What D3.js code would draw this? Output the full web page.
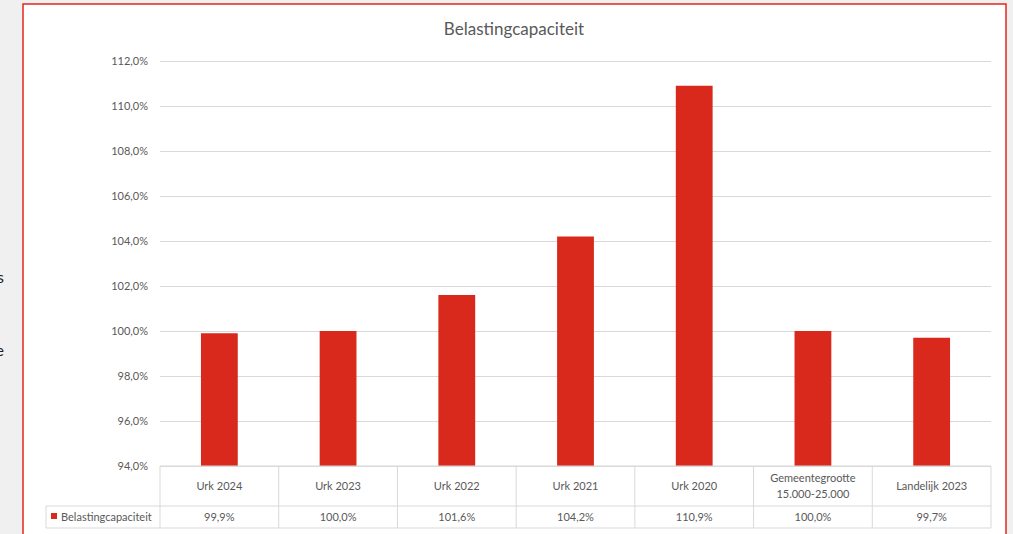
<!DOCTYPE html>
<html>
<head>
<meta charset="utf-8">
<script src="https://cdn.jsdelivr.net/npm/d3@7"></script>
<style>
  body { margin: 0; background: #f0f0f0; }
  svg { display: block; font-family: Lato, "Open Sans", sans-serif; }
</style>
</head>
<body>
<div id="chart"></div>
<script>
// data
const categories = ["Urk 2024", "Urk 2023", "Urk 2022", "Urk 2021", "Urk 2020", "Gemeentegrootte\n15.000-25.000", "Landelijk 2023"];
const values = [99.9, 100.0, 101.6, 104.2, 110.9, 100.0, 99.7];
const valueLabels = ["99,9%", "100,0%", "101,6%", "104,2%", "110,9%", "100,0%", "99,7%"];
const yTicks = [94, 96, 98, 100, 102, 104, 106, 108, 110, 112];
const seriesName = "Belastingcapaciteit";

const W = 1013, H = 534;
const plot = { left: 160, right: 991, top: 61, bottom: 466 };
const textColor = "#595959", gridColor = "#d9d9d9", barColor = "#d9291c";

const svg = d3.select("#chart").append("svg").attr("width", W).attr("height", H);

// fragmenten van tekst links van de grafiek
svg.append("text").attr("x", 4).attr("y", 283).attr("text-anchor", "end")
  .attr("font-size", 16).attr("fill", "#222").text("s");
svg.append("text").attr("x", 4).attr("y", 356).attr("text-anchor", "end")
  .attr("font-size", 16).attr("fill", "#222").text("e");

// kader
svg.append("rect").attr("x", 23).attr("y", 4).attr("width", 983).attr("height", 540)
  .attr("fill", "#fff").attr("stroke", "#e3261b").attr("stroke-width", 1.5);

svg.append("text").attr("x", 514).attr("y", 35).attr("text-anchor", "middle")
  .attr("font-size", 17).attr("fill", textColor).text(seriesName);

// schalen
const x = d3.scaleBand().domain(categories).range([plot.left, plot.right]).paddingInner(0.69).paddingOuter(0.345);
const xCol = d3.scaleBand().domain(categories).range([plot.left, plot.right]);
const y = d3.scaleLinear().domain([94, 112]).range([plot.bottom, plot.top]);

// rasterlijnen + labels
const yAxis = svg.append("g").attr("transform", `translate(${plot.left},0)`)
  .call(d3.axisLeft(y).tickValues(yTicks).tickSize(-(plot.right - plot.left)).tickPadding(12)
    .tickFormat(d => d3.format(".1f")(d).replace(".", ",") + "%"));
yAxis.select(".domain").remove();
yAxis.selectAll("line").attr("stroke", gridColor).attr("stroke-width", 1);
yAxis.selectAll("text").attr("fill", textColor).attr("font-size", 11).attr("font-family", "Lato, sans-serif");

// balken
svg.selectAll(".bar").data(values).enter().append("rect")
  .attr("x", (d, i) => x(categories[i]))
  .attr("y", d => y(d))
  .attr("width", x.bandwidth())
  .attr("height", d => y(94) - y(d))
  .attr("fill", barColor);

// gegevenstabel
const row1 = 466, row2 = 506, row3 = 528, legLeft = 46;
const tbl = svg.append("g").attr("stroke", gridColor).attr("stroke-width", 1);
tbl.append("line").attr("x1", plot.left).attr("x2", plot.right).attr("y1", row1).attr("y2", row1);
tbl.append("line").attr("x1", legLeft).attr("x2", plot.right).attr("y1", row2).attr("y2", row2);
tbl.append("line").attr("x1", legLeft).attr("x2", plot.right).attr("y1", row3).attr("y2", row3);
tbl.append("line").attr("x1", legLeft).attr("x2", legLeft).attr("y1", row2).attr("y2", row3);
tbl.selectAll(".v").data(categories.concat(["end"])).enter().append("line")
  .attr("x1", (d, i) => i < categories.length ? xCol(d) : plot.right)
  .attr("x2", (d, i) => i < categories.length ? xCol(d) : plot.right)
  .attr("y1", row1).attr("y2", row3);

categories.forEach((c, i) => {
  const lines = c.split("\n");
  const cx = xCol(c) + xCol.bandwidth() / 2;
  const t = svg.append("text").attr("text-anchor", "middle").attr("font-size", 11).attr("fill", textColor);
  lines.forEach((l, j) => {
    t.append("tspan").attr("x", cx)
      .attr("y", (row1 + row2) / 2 + 4 + (j - (lines.length - 1) / 2) * 16).text(l);
  });
  svg.append("text").attr("x", cx).attr("y", (row2 + row3) / 2 + 4).attr("text-anchor", "middle")
    .attr("font-size", 11).attr("fill", textColor).text(valueLabels[i]);
});

svg.append("rect").attr("x", 51).attr("y", 513).attr("width", 6).attr("height", 6).attr("fill", barColor);
svg.append("text").attr("x", 61).attr("y", (row2 + row3) / 2 + 4)
  .attr("font-size", 11).attr("fill", textColor).text(seriesName);
</script>
</body>
</html>
